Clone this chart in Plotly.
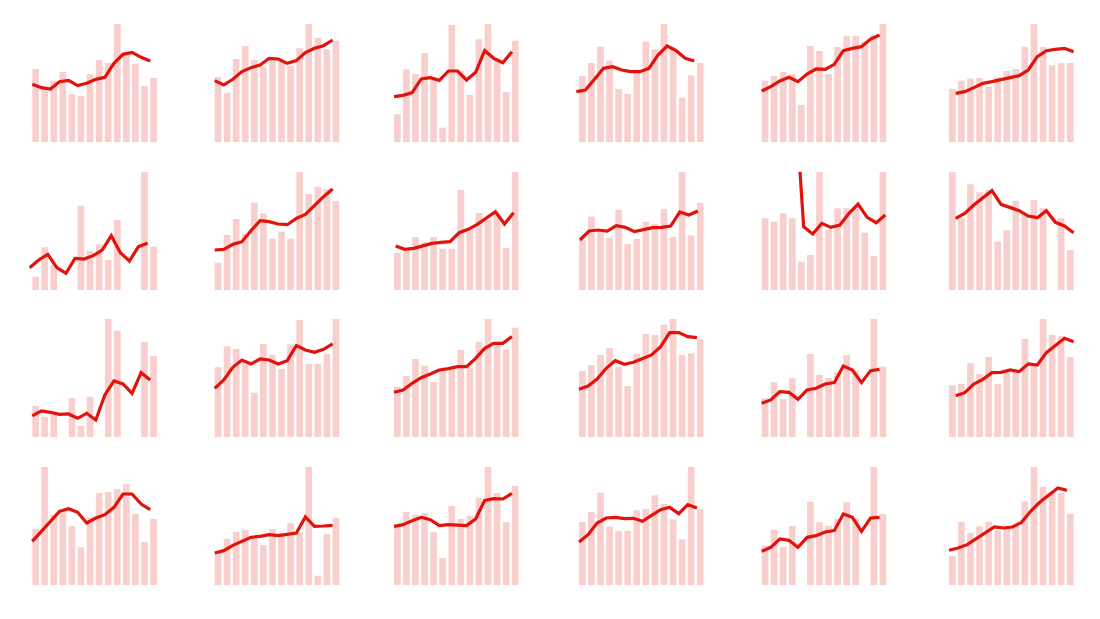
import plotly.graph_objects as go

# ---- data (14 periods per panel; bars + line) ----
p11_bars = [220, 167, 185, 211, 144, 139, 204, 247, 238, 355, 262, 236, 169, 193]
p11_line = [174, 164, 160, 182, 186, 170, 177, 189, 195, 237, 264, 270, 255, 244]
p12_bars = [196, 149, 250, 289, 247, 227, 255, 240, 230, 282, 355, 313, 279, 305]
p12_line = [185, 172, 189, 212, 224, 232, 252, 250, 237, 245, 269, 282, 290, 307]
p13_bars = [84, 219, 205, 268, 187, 44, 352, 215, 142, 309, 355, 252, 151, 305]
p13_line = [137, 141, 149, 190, 194, 186, 214, 214, 187, 210, 275, 252, 239, 272]
p14_bars = [199, 238, 287, 245, 160, 145, 217, 302, 279, 355, 285, 134, 201, 238]
p14_line = [152, 157, 189, 222, 227, 217, 212, 212, 222, 262, 289, 275, 252, 244]
p15_bars = [185, 199, 212, 205, 112, 289, 274, 205, 286, 318, 319, 302, 322, 355]
p15_line = [154, 167, 184, 195, 182, 205, 220, 219, 234, 275, 282, 287, 310, 322]
p16_bars = [161, 185, 191, 193, 167, 195, 214, 220, 287, 355, 286, 231, 237, 238]
p16_line = [147, 152, 164, 177, 182, 189, 194, 200, 217, 257, 275, 279, 282, 272]

p21_bars = [40, 128, 75, 0, 0, 253, 117, 137, 90, 210, 0, 0, 355, 130]
p21_line = [67, 90, 107, 67, 50, 95, 93, 103, 120, 163, 112, 87, 130, 140]
p22_bars = [82, 165, 213, 168, 262, 230, 154, 175, 154, 355, 288, 310, 302, 267]
p22_line = [120, 122, 137, 145, 178, 208, 205, 198, 196, 215, 227, 255, 280, 303]
p23_bars = [112, 120, 159, 143, 159, 124, 124, 300, 185, 231, 210, 230, 126, 355]
p23_line = [132, 122, 125, 133, 140, 143, 145, 172, 182, 197, 217, 235, 198, 232]
p24_bars = [150, 220, 175, 157, 240, 138, 153, 205, 198, 243, 160, 355, 164, 262]
p24_line = [150, 177, 180, 177, 193, 188, 175, 180, 187, 188, 192, 234, 225, 237]
p25_bars = [215, 205, 230, 215, 85, 105, 355, 180, 245, 245, 250, 172, 102, 355]
p25_line = [640, 630, 615, 600, 190, 168, 200, 188, 195, 230, 258, 218, 202, 225]
p26_bars = [355, 215, 317, 293, 300, 145, 179, 268, 230, 270, 245, 0, 215, 120]
p26_line = [215, 230, 255, 278, 298, 257, 247, 238, 222, 217, 238, 203, 192, 172]

p31_bars = [94, 62, 75, 0, 117, 35, 122, 0, 355, 320, 0, 0, 286, 244]
p31_line = [64, 79, 75, 69, 70, 57, 72, 52, 127, 169, 160, 132, 194, 172]
p32_bars = [210, 273, 265, 232, 134, 280, 247, 205, 279, 352, 220, 221, 250, 355]
p32_line = [147, 172, 210, 232, 220, 235, 232, 220, 230, 275, 262, 255, 264, 280]
p33_bars = [152, 184, 235, 215, 166, 200, 204, 262, 210, 286, 355, 282, 264, 329]
p33_line = [135, 142, 162, 179, 190, 202, 206, 212, 212, 237, 267, 282, 282, 302]
p34_bars = [199, 217, 247, 268, 212, 154, 251, 310, 307, 338, 355, 247, 252, 294]
p34_line = [144, 154, 175, 207, 230, 219, 225, 237, 247, 272, 314, 314, 302, 299]
p35_bars = [117, 165, 114, 177, 0, 250, 187, 178, 197, 247, 200, 0, 355, 212]
p35_line = [102, 112, 137, 135, 114, 142, 147, 160, 164, 214, 202, 164, 200, 204]
p36_bars = [156, 160, 222, 190, 241, 160, 197, 202, 295, 222, 355, 308, 304, 241]
p36_line = [125, 134, 160, 174, 194, 195, 202, 197, 220, 217, 254, 277, 297, 287]

p41_bars = [169, 355, 212, 227, 177, 114, 204, 277, 280, 289, 303, 214, 130, 199]
p41_line = [132, 162, 192, 222, 230, 219, 187, 202, 212, 234, 274, 274, 244, 227]
p42_bars = [97, 140, 161, 167, 142, 121, 169, 157, 186, 157, 355, 29, 154, 201]
p42_line = [97, 104, 120, 132, 144, 147, 152, 149, 154, 157, 205, 177, 178, 180]
p43_bars = [177, 220, 212, 217, 159, 82, 238, 199, 208, 263, 355, 277, 190, 298]
p43_line = [177, 182, 194, 204, 197, 179, 182, 180, 179, 199, 255, 260, 259, 276]
p44_bars = [190, 220, 278, 176, 163, 164, 225, 229, 270, 245, 198, 138, 355, 228]
p44_line = [130, 152, 187, 202, 204, 200, 201, 192, 210, 227, 234, 215, 242, 232]
p45_bars = [119, 167, 116, 178, 0, 251, 189, 179, 199, 249, 201, 0, 355, 214]
p45_line = [102, 114, 139, 135, 114, 144, 149, 160, 164, 214, 204, 162, 202, 204]
p46_bars = [89, 190, 157, 177, 191, 164, 170, 177, 251, 355, 296, 282, 277, 215]
p46_line = [105, 112, 122, 139, 157, 175, 172, 175, 189, 222, 249, 272, 292, 285]

periods = list(range(14))

panels = [
    [(p11_bars, p11_line), (p12_bars, p12_line), (p13_bars, p13_line),
     (p14_bars, p14_line), (p15_bars, p15_line), (p16_bars, p16_line)],
    [(p21_bars, p21_line), (p22_bars, p22_line), (p23_bars, p23_line),
     (p24_bars, p24_line), (p25_bars, p25_line), (p26_bars, p26_line)],
    [(p31_bars, p31_line), (p32_bars, p32_line), (p33_bars, p33_line),
     (p34_bars, p34_line), (p35_bars, p35_line), (p36_bars, p36_line)],
    [(p41_bars, p41_line), (p42_bars, p42_line), (p43_bars, p43_line),
     (p44_bars, p44_line), (p45_bars, p45_line), (p46_bars, p46_line)],
]

# ---- layout / style ----
W, H = 1100, 619
PAGE_OFFSET = 8.0   # default body margin of the html page
BAR_W = 0.735
STEP_PX = 9.07
XR = (-0.9, 13.9)
col_left_px = [32.3, 214.7, 394.0, 579.0, 761.7, 949.0]   # left edge of first bar (screen px)
row_base_px = [142.3, 290.0, 437.3, 585.3]               # bar baselines (screen px)
PANEL_H = 118.3
# horizontal shift of the line relative to bar centres (in period units)
line_shift = [
    [-0.3675, -0.3675, -0.3675, -0.66, -0.3675, 0.3675],
    [-0.66, -0.3675, -0.184, -0.257, 0.2575, 0.3675],
    [-0.3675, -0.3675, -0.3675, -0.3675, -0.3675, 0.3675],
    [-0.3675, -0.3675, -0.3675, -0.3675, -0.3675, -0.3675],
]
BAR_COLOR = "#f9cfcd"
LINE_COLOR = "#e3120b"

fig = go.Figure()
layout = dict(width=W, height=H, margin=dict(l=0, r=0, t=0, b=0),
              paper_bgcolor="white", plot_bgcolor="white", showlegend=False)

k = 0
for r in range(4):
    for c in range(6):
        k += 1
        bars, line = panels[r][c]
        xa = "x" if k == 1 else f"x{k}"
        ya = "y" if k == 1 else f"y{k}"
        fig.add_trace(go.Bar(x=periods, y=bars, width=BAR_W, marker=dict(color=BAR_COLOR, line=dict(width=0)),
                             xaxis=xa, yaxis=ya, hoverinfo="skip"))
        fig.add_trace(go.Scatter(x=[p + line_shift[r][c] for p in periods], y=line, mode="lines",
                                 line=dict(color=LINE_COLOR, width=3.2),
                                 xaxis=xa, yaxis=ya, hoverinfo="skip"))
        x0 = col_left_px[c] - PAGE_OFFSET - (-(XR[0]) - BAR_W / 2) * STEP_PX
        x1 = x0 + (XR[1] - XR[0]) * STEP_PX
        yb = row_base_px[r] - PAGE_OFFSET
        yt = yb - PANEL_H
        xkey = "xaxis" if k == 1 else f"xaxis{k}"
        ykey = "yaxis" if k == 1 else f"yaxis{k}"
        layout[xkey] = dict(domain=[x0 / W, x1 / W], range=list(XR), visible=False,
                            anchor=ya, fixedrange=True)
        layout[ykey] = dict(domain=[1 - yb / H, 1 - yt / H], range=[0, max(bars)], visible=False,
                            anchor=xa, fixedrange=True)

fig.update_layout(**layout)
fig.write_html("out.html")
